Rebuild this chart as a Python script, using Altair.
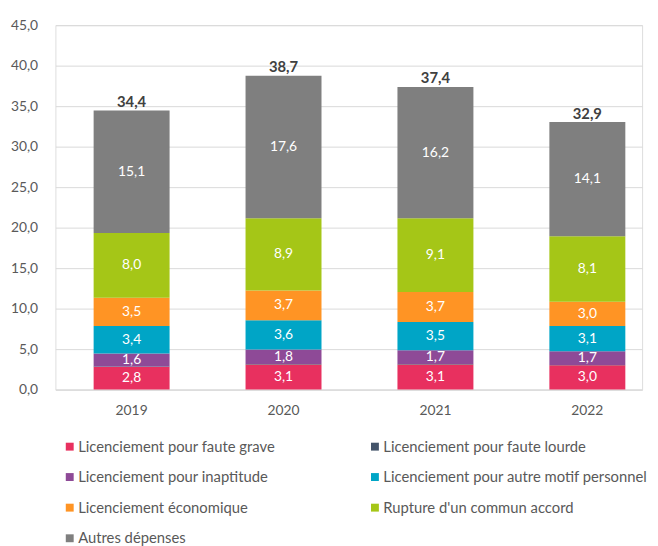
import altair as alt
import pandas as pd

years = ["2019", "2020", "2021", "2022"]
categories = [
    "Licenciement pour faute grave",
    "Licenciement pour faute lourde",
    "Licenciement pour inaptitude",
    "Licenciement pour autre motif personnel",
    "Licenciement économique",
    "Rupture d'un commun accord",
    "Autres dépenses",
]
faute_grave = [2.8, 3.1, 3.1, 3.0]
faute_lourde = [0.05, 0.05, 0.05, 0.05]
inaptitude = [1.6, 1.8, 1.7, 1.7]
autre_motif = [3.4, 3.6, 3.5, 3.1]
economique = [3.5, 3.7, 3.7, 3.0]
rupture = [8.0, 8.9, 9.1, 8.1]
autres = [15.1, 17.6, 16.2, 14.1]
totals = [34.4, 38.7, 37.4, 32.9]
colors = ["#E8305F", "#44546A", "#8E4A97", "#00A5C6", "#FF9424", "#A5C617", "#7F7F7F"]

series = [faute_grave, faute_lourde, inaptitude, autre_motif, economique, rupture, autres]
rows = []
for ci, (cat, vals) in enumerate(zip(categories, series)):
    for y, v in zip(years, vals):
        rows.append({"year": y, "cat": cat, "order": ci, "value": v,
                     "show": 0 if ci == 1 else 1})
df = pd.DataFrame(rows)
tot = pd.DataFrame({"year": years, "total": totals})

FONT = "Lato"
comma = "replace(format(datum.value, '.1f'), '.', ',')"

x = alt.X("year:N", title=None,
          scale=alt.Scale(paddingInner=0.5, paddingOuter=0.181, align=0.695),
          axis=alt.Axis(labelAngle=0, ticks=False, domain=True, domainColor="#D9D9D9",
                        labelPadding=14, labelFontSize=14, labelColor="#595959", labelFont=FONT))

bars = alt.Chart(df).mark_bar().encode(
    x=x,
    y=alt.Y("value:Q", stack="zero", title=None,
            scale=alt.Scale(domain=[0, 45]),
            axis=alt.Axis(values=list(range(0, 46, 5)), labelExpr=comma, domain=False, ticks=False,
                          labelPadding=18, gridColor="#D9D9D9", labelFontSize=14,
                          labelColor="#595959", labelFont=FONT)),
    color=alt.Color("cat:N", sort=categories,
                    scale=alt.Scale(domain=categories, range=colors),
                    legend=alt.Legend(title=None, orient="none", legendX=7, legendY=419,
                                      direction="horizontal",
                                      columns=2, columnPadding=93, rowPadding=15,
                                      symbolType="square", symbolSize=64, symbolStrokeWidth=0,
                                      labelOffset=1,
                                      labelFontSize=15, labelColor="#595959", labelFont=FONT,
                                      labelLimit=400)),
    order=alt.Order("order:Q"),
)

labels = alt.Chart(df).transform_stack(
    stack="value", groupby=["year"], as_=["y0", "y1"], sort=[alt.SortField("order")]
).transform_calculate(
    mid="(datum.y0 + datum.y1) / 2",
    lab="replace(format(datum.value, '.1f'), '.', ',')",
).transform_filter("datum.show == 1").mark_text(
    color="white", fontSize=14, font=FONT, baseline="middle"
).encode(x=x, y=alt.Y("mid:Q"), text="lab:N")

tlabels = alt.Chart(tot).transform_calculate(
    lab="replace(format(datum.total, '.1f'), '.', ',')"
).mark_text(color="#404040", fontSize=15, fontWeight="bold", font=FONT, dy=-9).encode(
    x=x, y=alt.Y("total:Q"), text="lab:N")

chart = alt.layer(bars, labels, tlabels).properties(
    width=594, height=369,
    padding={"left": 2, "right": 2, "top": 7, "bottom": 0},
).configure_view(stroke=None).configure(background="white")

chart.save("out.html", embed_options={"renderer": "svg", "actions": False})
